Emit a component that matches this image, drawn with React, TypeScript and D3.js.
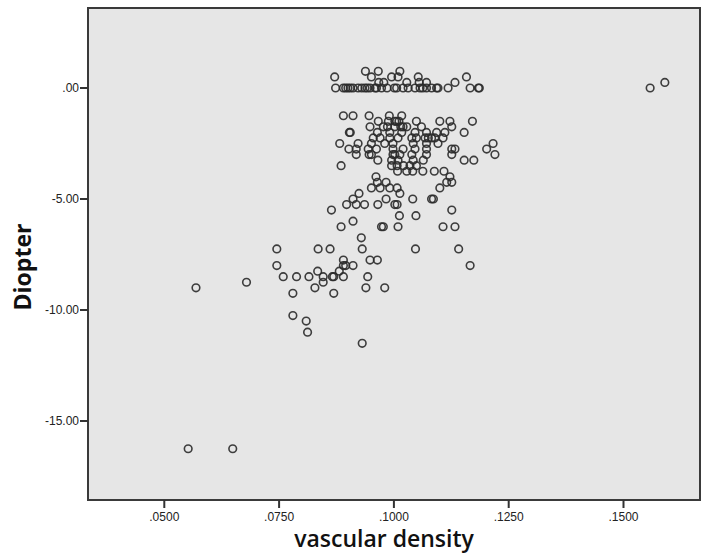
import React from "react";
import * as d3 from "d3";

// Diopter levels (rows) and the vascular density values of the cases at each level
const diopterLevels: number[] = [
  0.75, 0.5, 0.25, 0, -1.25, -1.5, -1.75, -2, -2.25, -2.5, -2.75, -3, -3.25, -3.5, -3.75,
  -4, -4.25, -4.5, -4.75, -5, -5.25, -5.5, -5.75, -6, -6.25, -6.75, -7.25, -7.75, -8, -8.25,
  -8.5, -8.75, -9, -9.25, -10.25, -10.5, -11, -11.5, -16.25,
];

const densityAtLevel: number[][] = [
  [0.0938, 0.0966, 0.1013],
  [0.0871, 0.0951, 0.0995, 0.1009, 0.1053, 0.1158],
  [0.0967, 0.0978, 0.1028, 0.1055, 0.1071, 0.1133, 0.159],
  [0.0873, 0.089, 0.0895, 0.09, 0.0905, 0.0911, 0.0922, 0.093, 0.0937, 0.0942, 0.0948, 0.0959, 0.0962, 0.0973, 0.0985, 0.1001, 0.1006, 0.102, 0.1031, 0.1046, 0.1057, 0.1063, 0.1071, 0.1082, 0.1093, 0.1096, 0.1118, 0.1166, 0.1184, 0.1186, 0.1558],
  [0.089, 0.0911, 0.0946, 0.099, 0.1017],
  [0.0966, 0.0988, 0.1002, 0.1006, 0.1011, 0.1049, 0.11, 0.1122, 0.1171],
  [0.0948, 0.0977, 0.0986, 0.1002, 0.1015, 0.102, 0.1028, 0.106, 0.1126],
  [0.0903, 0.0905, 0.0964, 0.0991, 0.1017, 0.1046, 0.1071, 0.1093, 0.1111, 0.1153],
  [0.0955, 0.097, 0.0991, 0.1009, 0.1039, 0.1049, 0.1068, 0.1075, 0.1082, 0.1089, 0.1107],
  [0.0882, 0.0922, 0.0951, 0.098, 0.0998, 0.1042, 0.1071, 0.1096, 0.1216],
  [0.0902, 0.0918, 0.0944, 0.0962, 0.0998, 0.102, 0.1046, 0.1071, 0.1126, 0.1133, 0.1202],
  [0.0918, 0.0946, 0.0951, 0.0998, 0.1002, 0.1013, 0.1039, 0.1071, 0.1126, 0.122],
  [0.0965, 0.0995, 0.1009, 0.1042, 0.1064, 0.1153, 0.1174],
  [0.0885, 0.0995, 0.1007, 0.1021, 0.1035, 0.1049],
  [0.1008, 0.1028, 0.1041, 0.1063, 0.1088, 0.1109],
  [0.0961, 0.1122],
  [0.0964, 0.0983, 0.1115, 0.1126],
  [0.0951, 0.097, 0.0991, 0.1007, 0.11],
  [0.0924, 0.1013],
  [0.0911, 0.0983, 0.1041, 0.1082, 0.1086],
  [0.0897, 0.0918, 0.0936, 0.0965, 0.1002, 0.1007],
  [0.0864, 0.1126],
  [0.1012, 0.1048],
  [0.0911],
  [0.0885, 0.0973, 0.0977, 0.1009, 0.1107, 0.1133],
  [0.0929],
  [0.0745, 0.0835, 0.0861, 0.0931, 0.1047, 0.1141],
  [0.089, 0.0948, 0.0964],
  [0.0745, 0.089, 0.0895, 0.0911, 0.1166],
  [0.0834, 0.0881],
  [0.0759, 0.0788, 0.0815, 0.0846, 0.0866, 0.0869, 0.089, 0.0943],
  [0.0679, 0.0846],
  [0.0569, 0.0828, 0.0939, 0.098],
  [0.078, 0.0869],
  [0.078],
  [0.0809],
  [0.0812],
  [0.0931],
  [0.0552, 0.0649],
];

const xTickValues: number[] = [0.05, 0.075, 0.1, 0.125, 0.15];
const xTickLabels: string[] = [".0500", ".0750", ".1000", ".1250", ".1500"];
const yTickValues: number[] = [0, -5, -10, -15];
const yTickLabels: string[] = [".00", "-5.00", "-10.00", "-15.00"];
const xTitle = "vascular density";
const yTitle = "Diopter";

const W = 708;
const H = 558;
const plot = { left: 88, right: 700, top: 8, bottom: 500 };

export default function App() {
  const x = d3.scaleLinear().domain([0.033384, 0.166659]).range([plot.left, plot.right]);
  const y = d3.scaleLinear().domain([3.604, -18.559]).range([plot.top, plot.bottom]);

  const points: { vx: number; vy: number }[] = [];
  diopterLevels.forEach((lvl, i) => {
    densityAtLevel[i].forEach((d) => points.push({ vx: d, vy: lvl }));
  });

  const tickFont = "'Liberation Sans', Arial, sans-serif";
  const titleFont = "'Open Sans', 'Noto Sans', sans-serif";

  return (
    <svg
      width={W}
      height={H}
      style={{ position: "absolute", left: 0, top: 0, background: "#fff" }}
    >
      <rect
        x={plot.left}
        y={plot.top}
        width={plot.right - plot.left}
        height={plot.bottom - plot.top}
        fill="#e6e6e6"
      />
      {points.map((p, i) => (
        <circle
          key={i}
          cx={x(p.vx)}
          cy={y(p.vy)}
          r={3.8}
          fill="none"
          stroke="#2a2a2a"
          strokeWidth={1.6}
          strokeOpacity={0.9}
        />
      ))}
      <rect
        x={plot.left}
        y={plot.top}
        width={plot.right - plot.left}
        height={plot.bottom - plot.top}
        fill="none"
        stroke="#3a3a3a"
        strokeWidth={2}
      />
      {xTickValues.map((v, i) => (
        <g key={"xt" + i}>
          <line x1={x(v)} x2={x(v)} y1={plot.bottom} y2={plot.bottom + 8} stroke="#333" strokeWidth={2} />
          <text
            x={x(v)}
            y={520.5}
            textAnchor="middle"
            fontFamily={tickFont}
            fontSize={12}
            fill="#222"
          >
            {xTickLabels[i]}
          </text>
        </g>
      ))}
      {yTickValues.map((v, i) => (
        <g key={"yt" + i}>
          <line x1={plot.left - 8} x2={plot.left} y1={y(v)} y2={y(v)} stroke="#333" strokeWidth={2} />
          <text
            x={plot.left - 9}
            y={y(v) + 4.3}
            textAnchor="end"
            fontFamily={tickFont}
            fontSize={12}
            fill="#222"
          >
            {yTickLabels[i]}
          </text>
        </g>
      ))}
      <text
        x={384}
        y={547}
        textAnchor="middle"
        fontFamily={titleFont}
        fontSize={23}
        fontWeight={600}
        fill="#111"
      >
        {xTitle}
      </text>
      <text
        transform={`translate(31, 267) rotate(-90)`}
        textAnchor="middle"
        fontFamily={titleFont}
        fontSize={23}
        fontWeight={700}
        fill="#111"
      >
        {yTitle}
      </text>
    </svg>
  );
}
